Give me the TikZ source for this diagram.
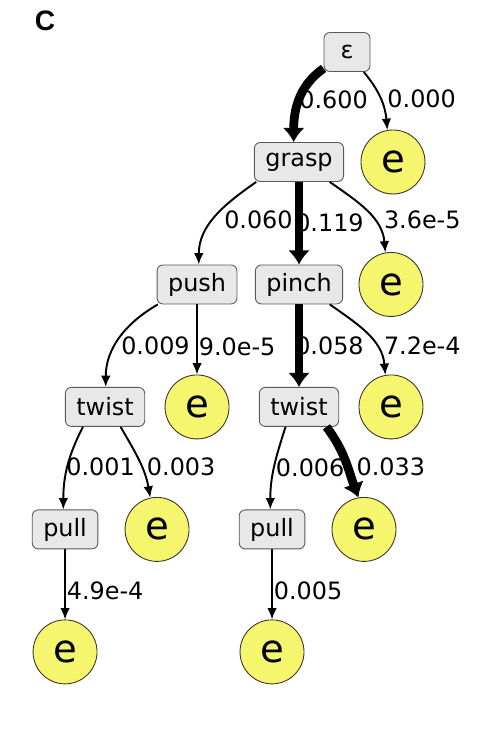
\documentclass[tikz,border=0pt]{standalone}
\usepackage{fontspec}
\setmainfont{DejaVu Sans}
\newfontfamily\panelfont{Liberation Sans}
\usetikzlibrary{arrows.meta,positioning}

\definecolor{sinkyellow}{RGB}{246,246,110}
\definecolor{actiongray}{RGB}{232,232,232}

\begin{document}
\begin{tikzpicture}[
		x=0.02cm, y=0.02cm,
		node distance=2.45cm,
		>={Latex[length=6.5pt,width=5.5pt]},
		font=\fontsize{13.6}{15}\selectfont,
		action/.style={
			rectangle,
			rounded corners=3.4pt,
			draw=black!65,
			line width=0.5pt,
			fill=actiongray,
			text centered,
			inner xsep=0.22cm,
			minimum height=0.78cm
		},
		sink/.style={
			circle,
			draw=black!80!olive,
			line width=0.5pt,
			fill=sinkyellow,
			minimum size=1.28cm,
			inner sep=0pt,
			font=\fontsize{22}{24}\selectfont
		},
		edge/.style={draw, ->, line width=1.1pt},
		heavy/.style={draw, -{Latex[length=8pt,width=12.5pt]}, line width=5pt},
		prob/.style={behind path, anchor=west, inner sep=0.5pt}
		]
		\useasboundingbox (0,0) rectangle (484,-737);
		
		% panel letter
		\node [font=\panelfont\fontsize{16}{18}\selectfont\bfseries] (panel) at (45,-21) {C};
		
		% the tree of actions
		\node [action, minimum width=0.92cm] (eps) at (347,-52) {ε};
		\node [action, below of=eps, yshift=0.25cm, xshift=-0.96cm] (grasp) {grasp};
		\node [sink, right of=grasp, xshift=-0.57cm] (end0) {e};
		
		\node [action, below of=grasp, xshift=-2.04cm] (push) {push};
		\node [action, below of=grasp] (pinch) {pinch};
		\node [sink, below of=end0, xshift=-0.04cm] (end1) {e};
		
		\node [action, below of=push, xshift=-1.84cm] (twistA) {twist};
		\node [sink, below of=push] (end2) {e};
		\node [action, below of=pinch] (twistB) {twist};
		\node [sink, below of=end1] (end3) {e};
		
		\node [action, below of=twistA, xshift=-0.8cm] (pullA) {pull};
		\node [sink, below of=twistA, xshift=1.04cm] (end4) {e};
		\node [action, below of=twistB, xshift=-0.54cm] (pullB) {pull};
		\node [sink, below of=twistB, xshift=1.30cm] (end5) {e};
		
		\node [sink, below of=pullA] (end6) {e};
		\node [sink, below of=pullB] (end7) {e};
		
		% transitions
		\draw [heavy] (eps.-145) to[out=-145, in=90] node [prob, xshift=-0.1cm] {0.600} (grasp.105);
		\draw [edge] (eps.-50) to[out=-50, in=95] node [prob, xshift=0.1cm] {0.000} (end0.100);
		\draw [edge] (grasp.-155) to[out=-145, in=90] node [prob, xshift=0.14cm, yshift=-0.06cm] {0.060} (push.85);
		\draw [heavy] (grasp) -- node [prob, xshift=-0.18cm] {0.119} (pinch);
		\draw [edge] (grasp.-33) to[out=-35, in=95] node [prob, xshift=0.3cm, yshift=-0.16cm] {3.6e-5} (end1.100);
		\draw [edge] (push.-153) to[out=-150, in=90] node [prob, yshift=-0.14cm] {0.009} (twistA.88);
		\draw [edge] (push) -- node [prob, yshift=-0.14cm] {9.0e-5} (end2);
		\draw [heavy] (pinch) -- node [prob, xshift=-0.18cm] {0.058} (twistB);
		\draw [edge] (pinch.-33) to[out=-35, in=95] node [prob, xshift=0.3cm, yshift=-0.24cm] {7.2e-4} (end3.100);
		\draw [edge] (twistA.-138) to[out=-117, in=90] node [prob, xshift=-0.06cm] {0.001} (pullA.95);
		\draw [edge] (twistA.-52) to[out=-60, in=100] node [prob, xshift=0.12cm, yshift=-0.12cm] {0.003} (end4.102);
		\draw [edge] (twistB.-124) to[out=-108, in=90] node [prob] {0.006} (pullB.95);
		\draw [heavy] (twistB.-36) to[out=-53, in=110] node [prob, xshift=0.12cm, yshift=-0.12cm] {0.033} (end5.100);
		\draw [edge] (pullA) -- node [prob, yshift=-0.12cm] {4.9e-4} (end6);
		\draw [edge] (pullB) -- node [prob, yshift=-0.12cm] {0.005} (end7);
		
\end{tikzpicture}
\end{document}
